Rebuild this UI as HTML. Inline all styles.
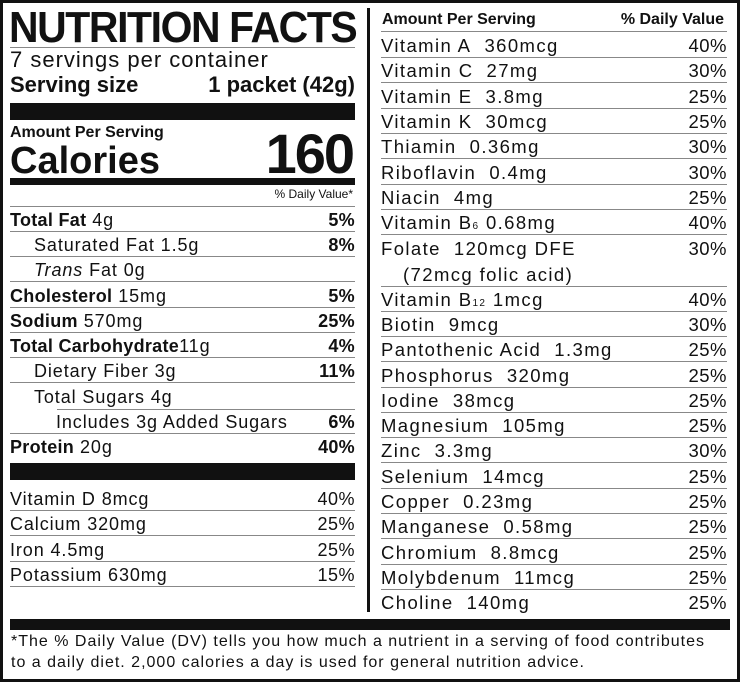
<!DOCTYPE html>
<html><head><meta charset="utf-8"><style>
*{margin:0;padding:0;box-sizing:border-box}
body{width:740px;height:682px;background:#fff;position:relative;overflow:hidden;font-family:"Liberation Sans",sans-serif;color:#111}
.frame{position:absolute;left:0;top:0;width:740px;height:682px;border:3px solid #111}
.a{position:absolute;white-space:nowrap}
.r{position:absolute;height:25px;line-height:26px;font-size:18px;border-bottom:1px solid #888;white-space:nowrap}
.r .v{position:absolute;right:0;top:0;letter-spacing:0.5px}
.L{left:10px;width:345px;letter-spacing:0.9px}
.R{left:381px;width:346px;letter-spacing:1.4px;font-size:18.5px}
b{font-weight:bold;letter-spacing:0.3px}
.bar{position:absolute;background:#111}
</style></head><body>
<div class="frame"></div>
<div class="a" style="left:9px;top:6px;font-size:44px;font-weight:bold;letter-spacing:-1.5px;line-height:44px;transform:scaleX(0.93);transform-origin:left">NUTRITION FACTS</div>
<div class="bar" style="left:10px;top:47px;width:345px;height:1px;background:#888"></div>
<div class="a" style="left:10px;top:48px;font-size:22px;line-height:24px;letter-spacing:1px">7 servings per container</div>
<div class="a" style="left:10px;top:73px;font-size:22px;line-height:24px;font-weight:bold">Serving size</div>
<div class="a" style="right:385px;top:73px;font-size:22px;line-height:24px;font-weight:bold">1 packet (42g)</div>
<div class="bar" style="left:10px;top:103px;width:345px;height:17px"></div>
<div class="a" style="left:10px;top:124px;font-size:16px;font-weight:bold;line-height:18px">Amount Per Serving</div>
<div class="a" style="left:10px;top:140px;font-size:38px;font-weight:bold;line-height:42px">Calories</div>
<div class="a" style="right:387px;top:126px;font-size:56px;font-weight:bold;line-height:56px;letter-spacing:-2px">160</div>
<div class="bar" style="left:10px;top:178px;width:345px;height:7px"></div>
<div class="a" style="right:387px;top:187px;font-size:12px;line-height:14px">% Daily Value*</div>
<div class="bar" style="left:10px;top:206px;width:345px;height:1px;background:#888"></div>

<div class="r L" style="top:207px"><b>Total Fat</b> 4g<span class="v"><b>5%</b></span></div>
<div class="r L" style="top:232px"><span style="padding-left:24px">Saturated Fat 1.5g</span><span class="v"><b>8%</b></span></div>
<div class="r L" style="top:257px"><span style="padding-left:24px"><i>Trans</i> Fat 0g</span></div>
<div class="r L" style="top:283px"><b>Cholesterol</b> 15mg<span class="v"><b>5%</b></span></div>
<div class="r L" style="top:308px"><b>Sodium</b> 570mg<span class="v"><b>25%</b></span></div>
<div class="r L" style="top:333px"><b>Total Carbohydrate</b>11g<span class="v"><b>4%</b></span></div>
<div class="r L" style="top:358px"><span style="padding-left:24px">Dietary Fiber 3g</span><span class="v"><b>11%</b></span></div>
<div class="r L" style="top:384px;border-bottom:none"><span style="padding-left:24px">Total Sugars 4g</span></div>
<div class="bar" style="left:57px;top:409px;width:298px;height:1px;background:#888"></div>
<div class="r L" style="top:409px"><span style="padding-left:46px">Includes 3g Added Sugars</span><span class="v"><b>6%</b></span></div>
<div class="r L" style="top:434px;border-bottom:none"><b>Protein</b> 20g<span class="v"><b>40%</b></span></div>
<div class="bar" style="left:10px;top:463px;width:345px;height:17px"></div>
<div class="r L" style="top:486px">Vitamin D 8mcg<span class="v">40%</span></div>
<div class="r L" style="top:511px">Calcium 320mg<span class="v">25%</span></div>
<div class="r L" style="top:537px">Iron 4.5mg<span class="v">25%</span></div>
<div class="r L" style="top:562px">Potassium 630mg<span class="v">15%</span></div>

<div class="bar" style="left:367px;top:8px;width:3px;height:604px"></div>

<div class="a" style="left:382px;top:11px;font-size:16px;font-weight:bold;line-height:18px">Amount Per Serving</div>
<div class="a" style="right:16px;top:11px;font-size:16px;font-weight:bold;line-height:18px">% Daily Value</div>
<div class="bar" style="left:381px;top:31px;width:346px;height:1px;background:#888"></div>

<div class="r R" style="top:33px">Vitamin A&nbsp; 360mcg<span class="v">40%</span></div>
<div class="r R" style="top:58px">Vitamin C&nbsp; 27mg<span class="v">30%</span></div>
<div class="r R" style="top:84px">Vitamin E&nbsp; 3.8mg<span class="v">25%</span></div>
<div class="r R" style="top:109px">Vitamin K&nbsp; 30mcg<span class="v">25%</span></div>
<div class="r R" style="top:134px">Thiamin&nbsp; 0.36mg<span class="v">30%</span></div>
<div class="r R" style="top:160px">Riboflavin&nbsp; 0.4mg<span class="v">30%</span></div>
<div class="r R" style="top:185px">Niacin&nbsp; 4mg<span class="v">25%</span></div>
<div class="r R" style="top:210px">Vitamin B<span style="font-size:10px">6</span> 0.68mg<span class="v">40%</span></div>
<div class="r R" style="top:236px;height:51px">Folate&nbsp; 120mcg DFE<br><span style="padding-left:22px">(72mcg folic acid)</span><span class="v">30%</span></div>
<div class="r R" style="top:287px">Vitamin B<span style="font-size:10px">12</span> 1mcg<span class="v">40%</span></div>
<div class="r R" style="top:312px">Biotin&nbsp; 9mcg<span class="v">30%</span></div>
<div class="r R" style="top:337px">Pantothenic Acid&nbsp; 1.3mg<span class="v">25%</span></div>
<div class="r R" style="top:363px">Phosphorus&nbsp; 320mg<span class="v">25%</span></div>
<div class="r R" style="top:388px">Iodine&nbsp; 38mcg<span class="v">25%</span></div>
<div class="r R" style="top:413px">Magnesium&nbsp; 105mg<span class="v">25%</span></div>
<div class="r R" style="top:438px">Zinc&nbsp; 3.3mg<span class="v">30%</span></div>
<div class="r R" style="top:464px">Selenium&nbsp; 14mcg<span class="v">25%</span></div>
<div class="r R" style="top:489px">Copper&nbsp; 0.23mg<span class="v">25%</span></div>
<div class="r R" style="top:514px">Manganese&nbsp; 0.58mg<span class="v">25%</span></div>
<div class="r R" style="top:540px">Chromium&nbsp; 8.8mcg<span class="v">25%</span></div>
<div class="r R" style="top:565px">Molybdenum&nbsp; 11mcg<span class="v">25%</span></div>
<div class="r R" style="top:590px;border-bottom:none">Choline&nbsp; 140mg<span class="v">25%</span></div>

<div class="bar" style="left:10px;top:619px;width:720px;height:11px"></div>
<div class="a" style="left:11px;top:631px;font-size:16px;line-height:21px;letter-spacing:1px">*The % Daily Value (DV) tells you how much a nutrient in a serving of food contributes<br>to a daily diet. 2,000 calories a day is used for general nutrition advice.</div>
</body></html>
